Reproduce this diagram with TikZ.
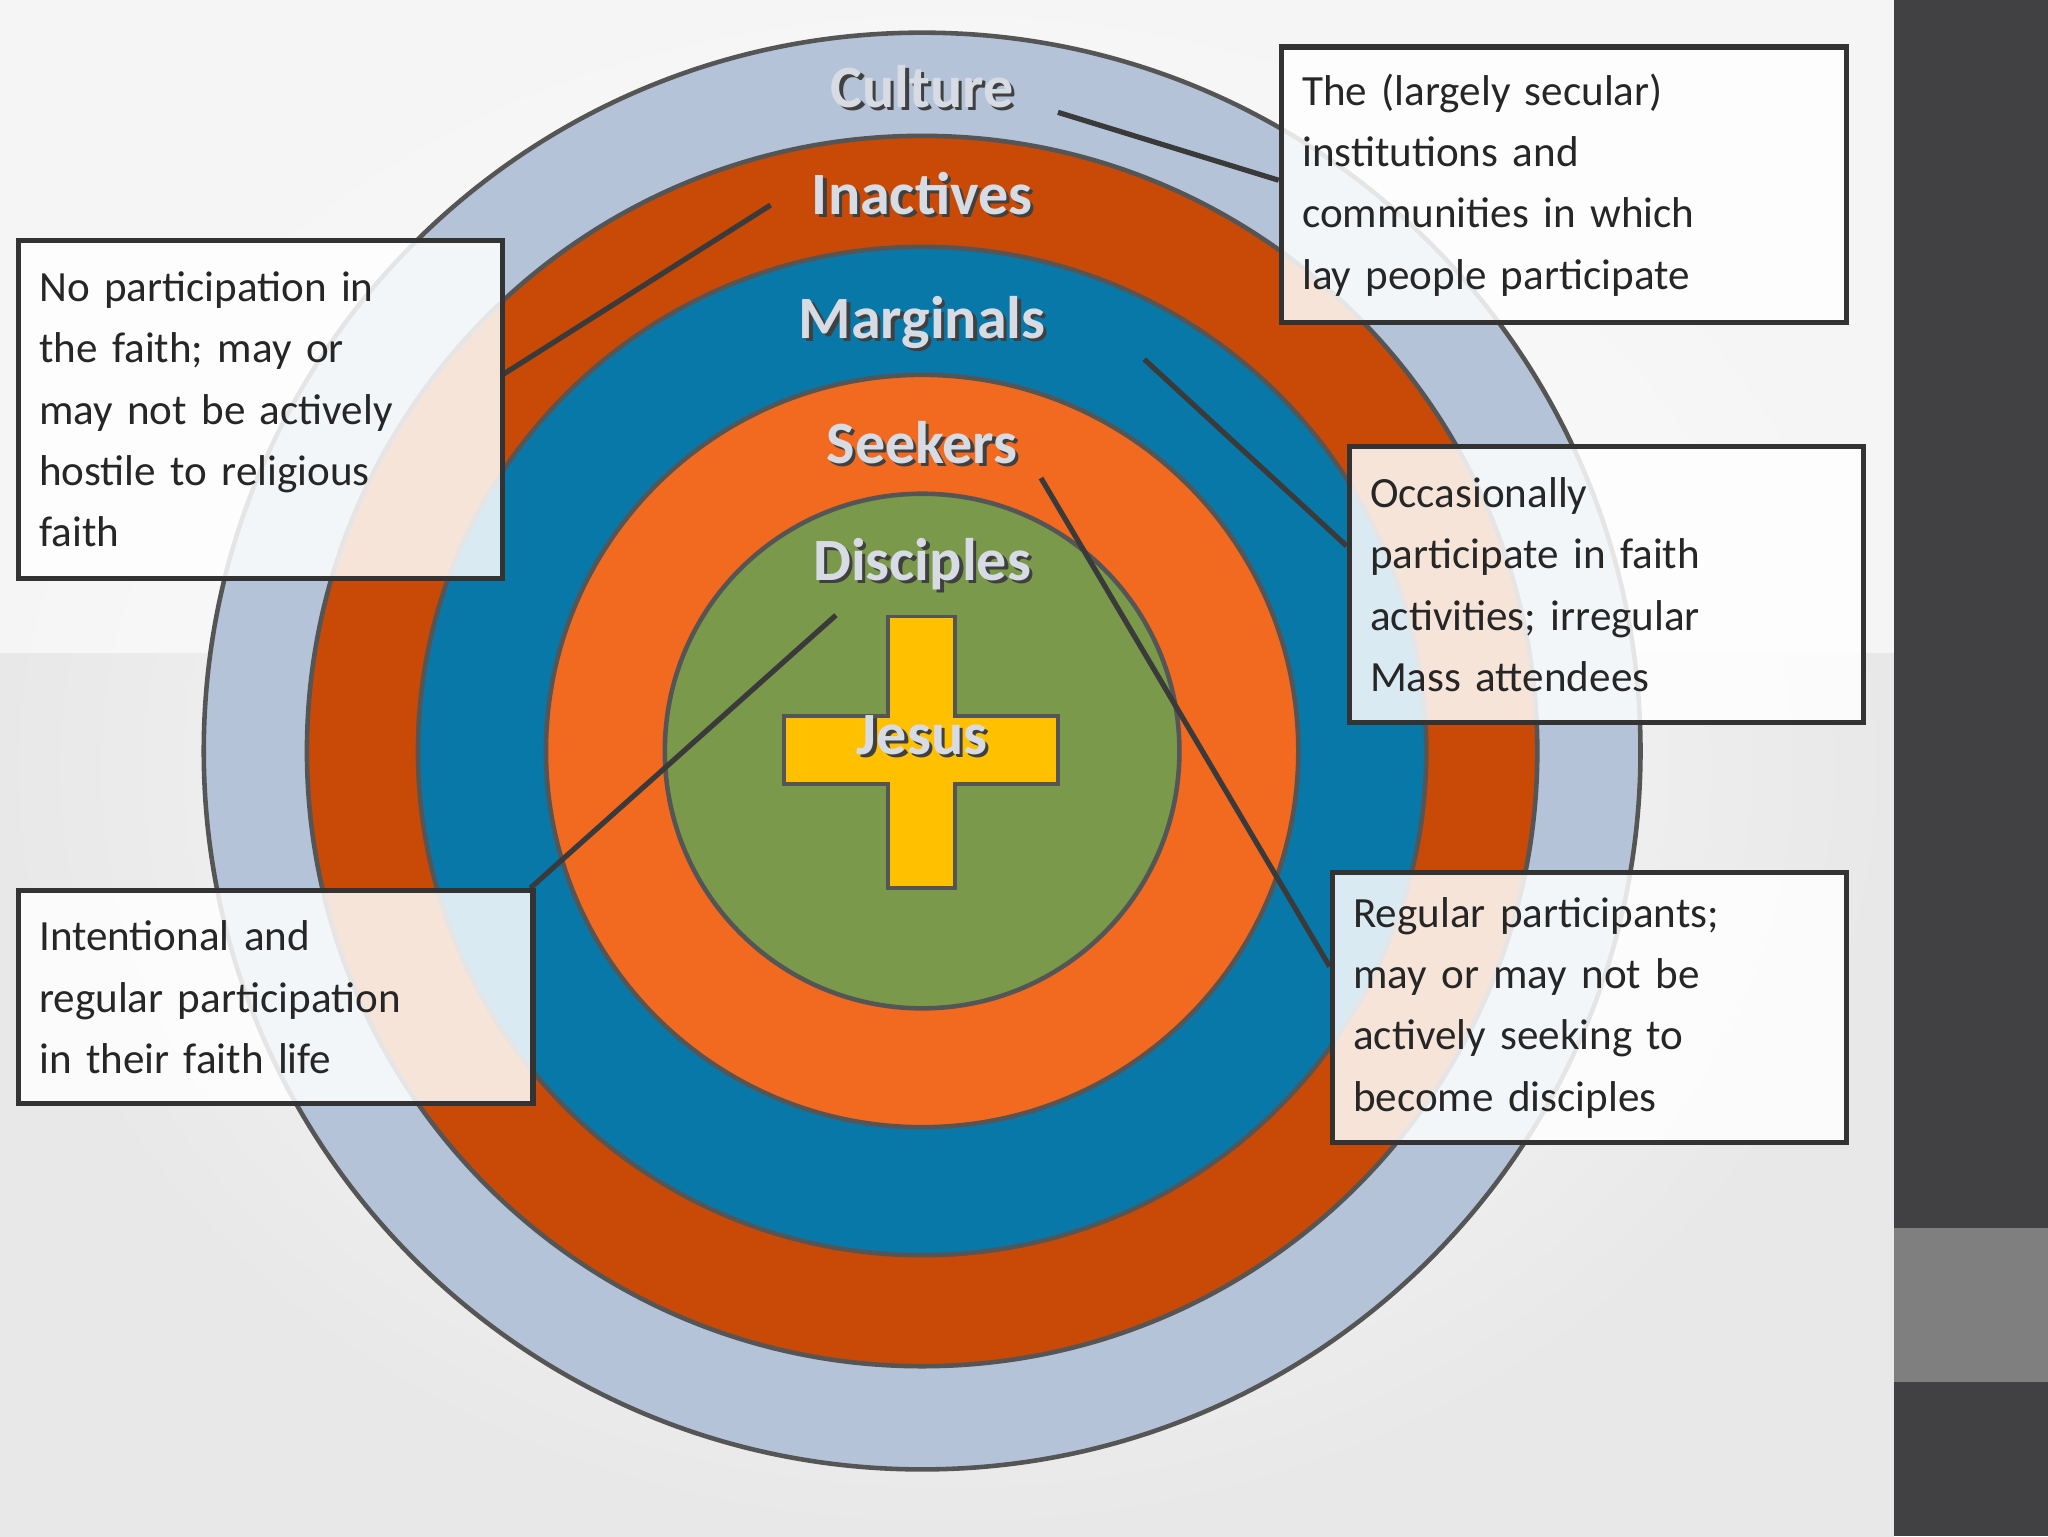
\documentclass[tikz,border=0pt]{standalone}
\usepackage{fontspec}
\setmainfont{Carlito}
\begin{document}
\begin{tikzpicture}[x=1pt,y=-1pt,
  ring/.style={draw=ringline,line width=3.5pt},
  box/.style={draw=boxline,line width=4pt,fill=white,fill opacity=0.85,text opacity=1,anchor=north west,align=left,inner sep=16pt,font=\fontsize{33}{47}\selectfont,text=black!85},
  lead/.style={draw=leadline,line width=4pt},
  lbl/.style={font=\bfseries\fontsize{46}{50}\selectfont,text=lbltext}]
\definecolor{ringline}{HTML}{555555}
\definecolor{boxline}{HTML}{333333}
\definecolor{leadline}{HTML}{3A3A3A}
\definecolor{lbltext}{HTML}{D6DBE4}
\definecolor{cult}{HTML}{B4C3D8}
\definecolor{inact}{HTML}{C84A06}
\definecolor{marg}{HTML}{0878A8}
\definecolor{seek}{HTML}{F26A1F}
\definecolor{disc}{HTML}{7A994A}
\definecolor{crossc}{HTML}{FFC000}
\definecolor{sidedark}{HTML}{414143}
\definecolor{sidelight}{HTML}{7F7F80}
\useasboundingbox (0,0) rectangle (1568,1176);
\shade[inner color=white,outer color=gray!18] (0,0) rectangle (1450,1176);
\fill[white,opacity=0.6] (0,0) rectangle (1450,500);
\fill[sidedark] (1450,0) rectangle (1568,1176);
\fill[sidelight] (1450,940) rectangle (1568,1058);
\coordinate (c) at (706,575);
\draw[ring,fill=cult] (c) circle[radius=550];
\draw[ring,fill=inact] (c) circle[radius=471];
\draw[ring,fill=marg] (c) circle[radius=386];
\draw[ring,fill=seek] (c) circle[radius=288];
\draw[ring,fill=disc] (c) circle[radius=197];
\draw[draw=ringline,line width=3pt,fill=crossc] (680,472) -- (731,472) -- (731,548) -- (810,548) -- (810,600) -- (731,600) -- (731,680) -- (680,680) -- (680,600) -- (600,600) -- (600,548) -- (680,548) -- cycle;
\foreach \t/\y/\n in {Culture/66/lc,Inactives/148/li,Marginals/247/lm,Seekers/339/ls,Disciples/432/ld,Jesus/563/lj}{
  \node[lbl,text=black!75] at (708.5,\y+2.5) {\t};
  \node[lbl] (\n) at (706,\y) {\t};
}
\coordinate (e1) at (810,86);
\coordinate (e2) at (590,157);
\coordinate (e3) at (876,275);
\coordinate (e4) at (797,366);
\coordinate (e5) at (640,471);
\coordinate (f1) at (979,138);
\coordinate (f2) at (383,288);
\coordinate (f3) at (1031,418);
\coordinate (f4) at (1018,740);
\coordinate (f5) at (406,680);
\draw[lead] (e1) -- (f1);
\draw[lead] (e2) -- (f2);
\draw[lead] (e3) -- (f3);
\draw[lead] (e4) -- (f4);
\draw[lead] (e5) -- (f5);
\node[box,text width=339pt,minimum width=371pt,minimum height=259pt] (b1) at (12,182) {No participation in\\the faith; may or\\may not be actively\\hostile to religious\\faith};
\node[box,text width=401pt,minimum width=433pt,minimum height=211pt] (b2) at (979,34) {The (largely secular)\\institutions and\\communities in which\\lay people participate};
\node[box,text width=362pt,minimum width=394pt,minimum height=211pt] (b3) at (1031,340) {Occasionally\\participate in faith\\activities; irregular\\Mass attendees};
\node[box,text width=362pt,minimum width=394pt,minimum height=207pt] (b4) at (1018,666) {Regular participants;\\may or may not be\\actively seeking to\\become disciples};
\node[box,text width=362pt,minimum width=394pt,minimum height=163pt] (b5) at (12,680) {Intentional and\\regular participation\\in their faith life};
\end{tikzpicture}
\end{document}
